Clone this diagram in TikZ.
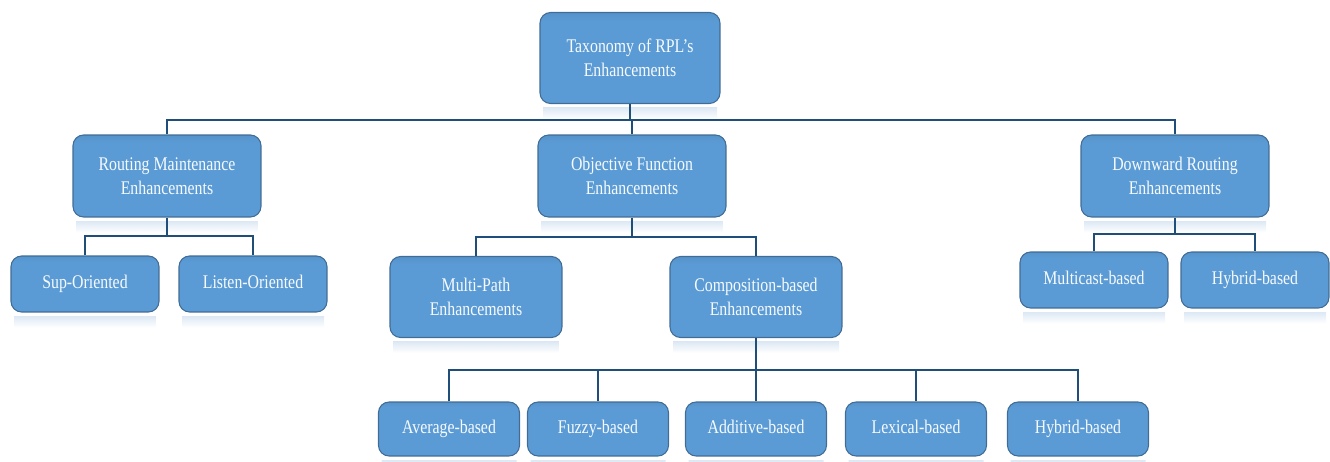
\documentclass[tikz,border=0pt]{standalone}
\usepackage{fontspec}
\setmainfont{Liberation Serif}[FakeStretch=0.82]
\usetikzlibrary{positioning,calc}
\definecolor{boxblue}{HTML}{5B9BD5}
\definecolor{boxtop}{HTML}{3A6A99}
\definecolor{linkblue}{HTML}{1F4E79}
\definecolor{glow}{HTML}{DCE8F4}
\pgfdeclareverticalshading{boxshade}{100bp}{color(0bp)=(boxblue!78!black); color(12bp)=(boxblue); color(70bp)=(boxblue); color(100bp)=(boxtop)}
\newcommand{\mirror}[1]{\shade[top color=glow,bottom color=white]([yshift=-2pt,xshift=2pt]#1.south west) rectangle ([yshift=-8.5pt,xshift=-2pt]#1.south east);}

\begin{document}
\begin{tikzpicture}[x=0.02cm,y=-0.02cm,
box/.style={rounded corners=6pt,shading=boxshade,draw=boxblue!70!black,line width=.6pt,text=white!95!boxblue,align=center,inner sep=2pt,font=\fontsize{11}{13.5}\selectfont},
rootbox/.style={box,minimum width=3.6cm,minimum height=1.82cm},
mainbox/.style={box,minimum width=3.76cm,minimum height=1.64cm},
twobox/.style={box,minimum width=3.44cm,minimum height=1.62cm},
leafbox/.style={box,minimum width=2.96cm,minimum height=1.12cm,text height=1.6ex,text depth=.5ex},
basebox/.style={box,minimum width=2.82cm,minimum height=1.08cm,text height=1.6ex,text depth=.5ex},
link/.style={draw=linkblue,line width=1.6pt}]
\useasboundingbox (0,0) rectangle (1330,462);
\node[rootbox](root) at (630,58){Taxonomy of RPL's\\Enhancements};
\node[mainbox](rme) at (167,176){Routing Maintenance\\Enhancements};
\node[mainbox](ofe) at (632,176){Objective Function\\Enhancements};
\node[mainbox](dre) at (1175,176){Downward Routing\\Enhancements};
\node[leafbox](sup) at (85,284){Sup-Oriented};
\node[leafbox](lis) at (253,284){Listen-Oriented};
\node[twobox](mpe) at (476,297){Multi-Path\\Enhancements};
\node[twobox](cbe) at (756,297){Composition-based\\Enhancements};
\node[leafbox](mcb) at (1094,280){Multicast-based};
\node[leafbox](hyb) at (1255,280){Hybrid-based};
\node[basebox](avg) at (449,429){Average-based};
\node[basebox](fuz) at (598,429){Fuzzy-based};
\node[basebox](add) at (756,429){Additive-based};
\node[basebox](lex) at (916,429){Lexical-based};
\node[basebox](hyc) at (1078,429){Hybrid-based};
\foreach \n in {root,rme,ofe,dre,sup,lis,mpe,cbe,mcb,hyb,avg,fuz,add,lex,hyc}{\mirror{\n}}
\coordinate(b1) at (630,120);
\coordinate(b2) at (167,236);
\coordinate(b3) at (632,237);
\coordinate(b4) at (1175,234);
\coordinate(b5) at (756,370);
\draw[link](root.south)--(b1);
\draw[link](rme.north)|-(b1)-|(dre.north);
\draw[link](ofe.north)--(ofe.north|-b1);
\draw[link](rme.south)--(b2);
\draw[link](sup.north)|-(b2)-|(lis.north);
\draw[link](ofe.south)--(b3);
\draw[link](mpe.north)|-(b3)-|(cbe.north);
\draw[link](dre.south)--(b4);
\draw[link](mcb.north)|-(b4)-|(hyb.north);
\draw[link](cbe.south)--(b5);
\draw[link](avg.north)|-(b5)-|(hyc.north);
\draw[link](fuz.north)--(fuz.north|-b5);
\draw[link](add.north)--(add.north|-b5);
\draw[link](lex.north)--(lex.north|-b5);
\end{tikzpicture}
\end{document}
